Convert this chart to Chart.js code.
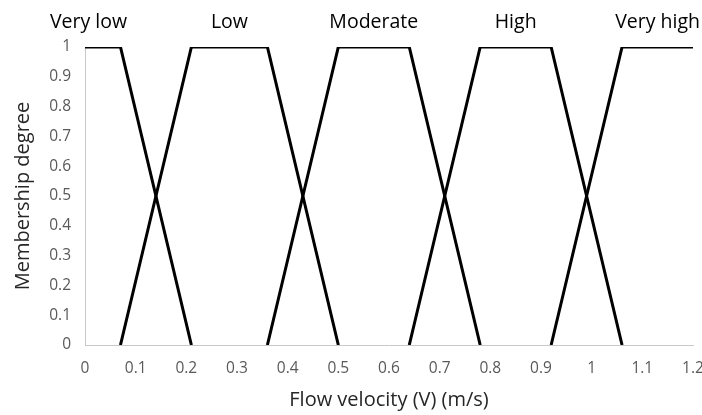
<!DOCTYPE html>
<html>
<head>
<meta charset="utf-8">
<script src="https://cdn.jsdelivr.net/npm/chart.js@4/dist/chart.umd.min.js"></script>
<style>
  html, body { margin: 0; padding: 0; background: #fff; }
  canvas { display: block; }
</style>
</head>
<body>
<canvas id="chart" width="702" height="415"></canvas>
<script>
// Conjuntos difusos da velocidade de escoamento (trapézios)
const veryLowX = [0, 0.07, 0.21];
const veryLowY = [1, 1, 0];
const lowX = [0.07, 0.21, 0.36, 0.5];
const lowY = [0, 1, 1, 0];
const moderateX = [0.36, 0.5, 0.64, 0.78];
const moderateY = [0, 1, 1, 0];
const highX = [0.64, 0.78, 0.92, 1.06];
const highY = [0, 1, 1, 0];
const veryHighX = [0.92, 1.06, 1.2];
const veryHighY = [0, 1, 1];

// Rótulos dos conjuntos, escritos acima do gráfico
const setNames = ['Very low', 'Low', 'Moderate', 'High', 'Very high'];
const setLabelX = [0.007, 0.285, 0.57, 0.85, 1.13];

// Rótulos dos eixos
const xTickLabels = ['0', '0.1', '0.2', '0.3', '0.4', '0.5', '0.6', '0.7', '0.8', '0.9', '1', '1.1', '1.2'];
const yTickLabels = ['0', '0.1', '0.2', '0.3', '0.4', '0.5', '0.6', '0.7', '0.8', '0.9', '1'];

const FONTE = "'Open Sans', sans-serif";

function pontos(xs, ys) {
  return xs.map((x, i) => ({ x: x, y: ys[i] }));
}

function serie(xs, ys) {
  return {
    data: pontos(xs, ys),
    borderColor: '#000',
    borderWidth: 3,
    pointRadius: 0,
    fill: false,
    tension: 0,
    showLine: true
  };
}

// Escreve os nomes dos conjuntos no topo
const rotulosConjuntos = {
  id: 'rotulosConjuntos',
  afterDraw(chart) {
    const ctx = chart.ctx;
    const xs = chart.scales.x;
    ctx.save();
    ctx.font = '19.5px ' + FONTE;
    ctx.fillStyle = '#000';
    ctx.textAlign = 'center';
    ctx.textBaseline = 'middle';
    setNames.forEach((nome, i) => {
      ctx.fillText(nome, xs.getPixelForValue(setLabelX[i]), chart.chartArea.top - 25);
    });
    ctx.restore();
  }
};

new Chart(document.getElementById('chart'), {
  type: 'scatter',
  data: {
    datasets: [
      serie(veryLowX, veryLowY),
      serie(lowX, lowY),
      serie(moderateX, moderateY),
      serie(highX, highY),
      serie(veryHighX, veryHighY)
    ]
  },
  options: {
    responsive: false,
    animation: false,
    devicePixelRatio: 1,
    layout: { padding: { top: 47, right: 9, left: 0, bottom: 0 } },
    plugins: {
      legend: { display: false },
      tooltip: { enabled: false }
    },
    scales: {
      x: {
        type: 'linear',
        min: 0,
        max: 1.2,
        afterFit(scale) {
          scale.height = 70;
          scale.paddingLeft = 0;
          scale.paddingRight = 0;
        },
        grid: { display: false, drawTicks: false },
        border: { display: true, color: '#c8c8c8', width: 1 },
        ticks: {
          stepSize: 0.1,
          padding: 14,
          maxRotation: 0,
          autoSkip: false,
          color: '#595959',
          font: { family: FONTE, size: 15.5 },
          callback: v => xTickLabels[Math.round(v * 10)]
        },
        title: {
          display: true,
          text: 'Flow velocity (V) (m/s)',
          color: '#262626',
          font: { family: FONTE, size: 20 },
          padding: { top: 0, bottom: 3 }
        }
      },
      y: {
        min: 0,
        max: 1,
        afterFit(scale) { scale.width = 85; },
        grid: { display: false, drawTicks: false },
        border: { display: true, color: '#c8c8c8', width: 1 },
        ticks: {
          stepSize: 0.1,
          padding: 14,
          color: '#595959',
          font: { family: FONTE, size: 15.5 },
          callback: v => yTickLabels[Math.round(v * 10)]
        },
        title: {
          display: true,
          text: 'Membership degree',
          color: '#262626',
          font: { family: FONTE, size: 20 },
          padding: { top: 11, bottom: 0 }
        }
      }
    }
  },
  plugins: [rotulosConjuntos]
});
</script>
</body>
</html>
